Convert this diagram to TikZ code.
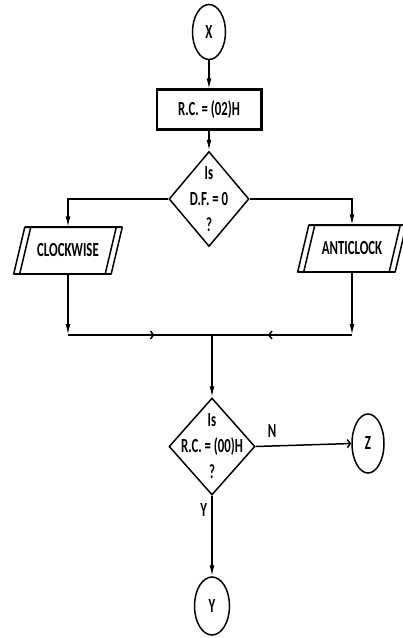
\documentclass[tikz,border=0pt]{standalone}
\usepackage{fontspec}
\setmainfont{Carlito}[FakeStretch=0.64]
\usepackage{tikz}
\usetikzlibrary{arrows.meta,shapes.geometric,calc,decorations.markings}

\newcommand{\ioshape}[1]{%
  \draw ($(#1.south west)+(-5.5,0)$) -- ($(#1.north west)+(5.5,0)$)
    -- ($(#1.north east)+(5.5,0)$) -- ($(#1.south east)+(-5.5,0)$) -- cycle;
  \draw[line width=2.4pt] ($(#1.north west)+(5.5,0)$) -- ($(#1.north east)+(5.5,0)$);
  \draw[line width=2.4pt] ($(#1.south west)+(-5.5,0)$) -- ($(#1.south east)+(-5.5,0)$);
  \draw ($(#1.south west)+(0.5,0)$) -- ($(#1.north west)+(11.5,0)$);
  \draw ($(#1.south east)+(-11.5,0)$) -- ($(#1.north east)+(-0.5,0)$);}

\begin{document}
\begin{tikzpicture}[x=1pt,y=-1pt,line width=1.5pt,
  font=\fontsize{20}{24}\selectfont\bfseries,
  term node/.style={ellipse,draw,inner sep=0pt,minimum width=33pt,minimum height=55pt},
  proc node/.style={rectangle,draw,inner sep=0pt,minimum width=104pt,minimum height=39pt},
  dec node/.style={diamond,draw,inner sep=0pt},
  io node/.style={rectangle,inner sep=0pt,minimum width=96pt,minimum height=45pt},
  arr/.style={-{Latex[length=11pt,width=5pt]}},
  barb/.style={-{Straight Barb[length=3pt,width=8pt]}},
  mid arrow/.style={postaction={decorate},decoration={markings,
    mark=at position 0.6 with {\arrow{Straight Barb[length=3pt,width=8pt]}}}}]
\useasboundingbox (0,0) rectangle (403,638);
%X
  \node[term node] (X) at (209,32) {X};
%R.C.
  \node[proc node] (rc) at (209,109.5) {R.C. = (02)H};
  \draw[line width=2.4pt] (rc.north west) -- (rc.north east) -- (rc.south east) -- (rc.south west);
%first test
  \node[dec node,minimum width=80pt,minimum height=95pt] (dec1) at (209,199) {};
  \node[align=center] at (dec1) {Is\\[2pt]D.F. = 0\\[2pt]?};
%clockwise
  \node[io node] (cw) at (68,250.5) {CLOCKWISE};
  \ioshape{cw}
%anticlock
  \node[io node] (acw) at (352,248.5) {ANTICLOCK};
  \ioshape{acw}
%join
  \coordinate (join) at (212,335);
%second test
  \node[dec node,minimum width=86pt,minimum height=97pt] (dec2) at (212,446.5) {};
  \node[align=center] at (dec2) {Is\\[2pt]R.C. = (00)H\\[2pt]?};
%Z and Y
  \node[term node,minimum width=32pt,minimum height=59pt] (Z) at (368,443.5) {Z};
  \node[term node,minimum width=35pt,minimum height=58pt] (Y) at (212,606) {Y};
%paths
  \draw[arr] (X) -- (rc);
  \draw[arr] (rc) -- (dec1);
  \draw[arr] (dec1.west) -| (cw.north);
  \draw[arr] (dec1.east) -| (acw.north);
  \draw[arr] (cw.south) -- (cw.south |- join);
  \draw[arr] (acw.south) -- (acw.south |- join);
  \draw[mid arrow] (cw.south |- join) -- (join);
  \draw[mid arrow] (acw.south |- join) -- (join);
  \draw[arr] (join) -- (dec2.north);
  \draw[barb] (dec2.east) -- node[pos=0.17,above=4pt] {N} (Z.west);
  \draw[arr] (dec2.south) -- node[pos=0.18,left=1pt] {Y} (Y.north);
\end{tikzpicture}
\end{document}
